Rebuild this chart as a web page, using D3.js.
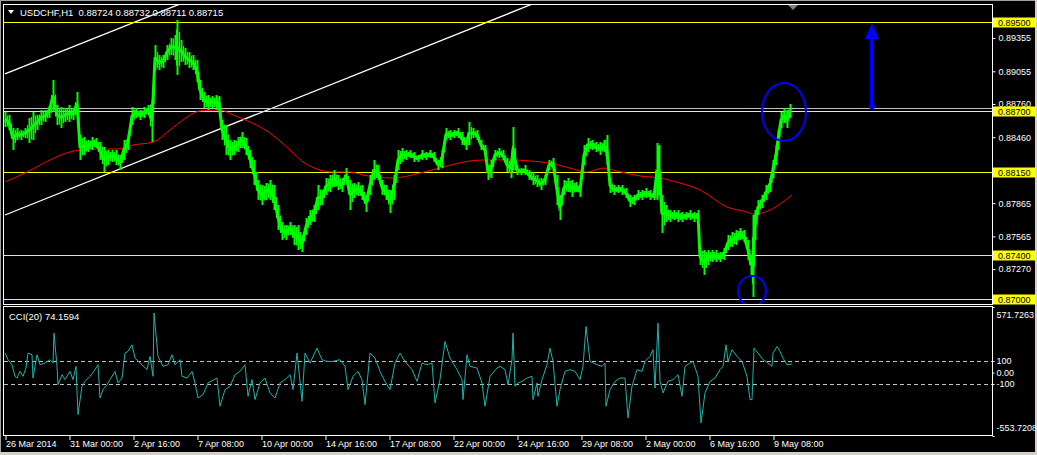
<!DOCTYPE html>
<html><head><meta charset="utf-8">
<script src="https://cdn.jsdelivr.net/npm/d3@7"></script>
<style>
html,body{margin:0;padding:0;background:#000;overflow:hidden}
svg{display:block}
text{font-family:"Liberation Sans",Arial,sans-serif}
</style></head><body>
<svg id="c" width="1037" height="455"></svg>
<script>
// ---------------- data ----------------
const symbol = "USDCHF,H1";
const quote = ["0.88724", "0.88732", "0.88711", "0.88715"];
const bid = 0.88715;

// hourly bar number since chart start, sampled bar highs / lows
const barIdx = [0,4,8,12,16,20,24,28,32,36,40,44,48,52,56,60,64,68,72,75,79,83,87,91,95,99,103,107,111,115,119,123,127,131,135,139,143,147,150,154,158,162,166,170,172,176,180,184,188,192,195,199,203,207,211,214,217,221,225,229,233,237,241,245,249,253,257,261,265,269,273,277,281,285,289,293,297,301,305,309,313,317,321,325,329,333,337,341,345,349,353,357,361,365,369,373,377,381,385,389,393,397,401,405,409,413,417,421,425,429,433,437,441,445,449,453,457,461,464,468,472,476,480,483,486,490,494,498,502,506,508,512,516,520,524,528,532,536,540,544,548,552,555,559,563,567,571,575,579,583,587,591,595,599,602,605,609,613,617,621,625,629,633,637,641,645,649,652,654,657,661,665,669,673,677,681,685,689,693,695,699,703,707,711,715,719,723,727,731,735,739,743,746,748,750,753,757,761,765,768,771,773,776,779,782,785];
const barHigh = [0.88688,0.88661,0.88543,0.88543,0.88525,0.88543,0.88634,0.88688,0.88661,0.88706,0.88706,0.88742,0.88977,0.88751,0.88733,0.88724,0.88751,0.88724,0.88868,0.88480,0.88462,0.88435,0.88462,0.88453,0.88417,0.88372,0.88345,0.88345,0.88345,0.88300,0.88435,0.88480,0.88733,0.88724,0.88706,0.88733,0.88751,0.88796,0.89292,0.89202,0.89202,0.89292,0.89356,0.89383,0.89518,0.89338,0.89265,0.89229,0.89202,0.89157,0.88977,0.88868,0.88841,0.88832,0.88841,0.88832,0.88616,0.88570,0.88435,0.88435,0.88462,0.88507,0.88453,0.88345,0.88255,0.88074,0.88029,0.88047,0.88074,0.88029,0.87848,0.87695,0.87668,0.87695,0.87668,0.87668,0.87578,0.87731,0.87803,0.87848,0.88029,0.87984,0.88092,0.88119,0.88164,0.88119,0.88092,0.88182,0.88074,0.88047,0.88056,0.88029,0.87939,0.88119,0.88255,0.88209,0.88074,0.88029,0.87984,0.88119,0.88345,0.88363,0.88345,0.88345,0.88327,0.88300,0.88345,0.88327,0.88345,0.88327,0.88255,0.88345,0.88543,0.88525,0.88525,0.88543,0.88507,0.88453,0.88598,0.88543,0.88525,0.88435,0.88390,0.88209,0.88255,0.88345,0.88363,0.88345,0.88273,0.88255,0.88552,0.88209,0.88182,0.88209,0.88164,0.88146,0.88119,0.88092,0.88119,0.88255,0.88273,0.88119,0.87939,0.88074,0.88092,0.88074,0.88056,0.88029,0.88390,0.88453,0.88435,0.88417,0.88417,0.88435,0.88480,0.88092,0.88029,0.88029,0.88029,0.88002,0.87939,0.87939,0.87984,0.87984,0.88002,0.87984,0.87966,0.88408,0.88390,0.87939,0.87848,0.87803,0.87803,0.87803,0.87785,0.87785,0.87803,0.87785,0.87803,0.87460,0.87442,0.87442,0.87442,0.87442,0.87424,0.87460,0.87578,0.87605,0.87623,0.87641,0.87623,0.87533,0.87397,0.87758,0.87803,0.87894,0.87939,0.88029,0.88092,0.88255,0.88390,0.88525,0.88688,0.88724,0.88706,0.88760];
const barLow = [0.88552,0.88525,0.88345,0.88435,0.88435,0.88453,0.88408,0.88435,0.88525,0.88570,0.88598,0.88634,0.88688,0.88570,0.88543,0.88598,0.88598,0.88616,0.88661,0.88255,0.88300,0.88327,0.88345,0.88363,0.88255,0.88146,0.88209,0.88237,0.88209,0.88164,0.88255,0.88345,0.88570,0.88634,0.88616,0.88634,0.88661,0.88417,0.89067,0.89067,0.89085,0.89157,0.89202,0.89157,0.89022,0.89139,0.89112,0.89085,0.89067,0.88958,0.88796,0.88724,0.88706,0.88724,0.88706,0.88706,0.88435,0.88300,0.88255,0.88300,0.88327,0.88363,0.88300,0.88182,0.88029,0.87894,0.87848,0.87894,0.87894,0.87803,0.87623,0.87533,0.87533,0.87578,0.87487,0.87442,0.87424,0.87578,0.87668,0.87695,0.87803,0.87848,0.87939,0.87966,0.88011,0.87984,0.87966,0.88056,0.87803,0.87912,0.87930,0.87894,0.87785,0.87939,0.88074,0.88074,0.87939,0.87894,0.87776,0.87894,0.88164,0.88237,0.88255,0.88273,0.88237,0.88237,0.88255,0.88255,0.88273,0.88237,0.88164,0.88182,0.88435,0.88435,0.88453,0.88453,0.88390,0.88345,0.88390,0.88453,0.88435,0.88345,0.88300,0.88074,0.88092,0.88255,0.88273,0.88255,0.88146,0.88092,0.88164,0.88119,0.88119,0.88119,0.88074,0.88029,0.88011,0.87984,0.88029,0.88164,0.88182,0.87848,0.87713,0.87939,0.87966,0.87921,0.87966,0.87921,0.88209,0.88327,0.88345,0.88327,0.88300,0.88327,0.88209,0.87957,0.87939,0.87957,0.87939,0.87912,0.87830,0.87848,0.87894,0.87894,0.87912,0.87894,0.87894,0.87894,0.87939,0.87596,0.87695,0.87695,0.87713,0.87695,0.87695,0.87713,0.87713,0.87695,0.87713,0.87307,0.87217,0.87307,0.87334,0.87334,0.87334,0.87352,0.87442,0.87469,0.87487,0.87533,0.87515,0.87352,0.87217,0.87018,0.87533,0.87758,0.87821,0.87894,0.87966,0.88092,0.88209,0.88345,0.88543,0.88589,0.88543,0.88634];

// moving average (red)
const maIdx = [0,22,45,65,75,95,112,128,148,165,178,195,215,228,245,265,285,298,312,328,345,358,388,415,438,465,482,508,525,545,565,582,598,612,635,655,675,695,722,742,748,765,778,787];
const maVal = [0.88056,0.88146,0.88255,0.88327,0.88345,0.88354,0.88354,0.88390,0.88417,0.88525,0.88616,0.88697,0.88706,0.88661,0.88598,0.88498,0.88345,0.88237,0.88173,0.88146,0.88146,0.88119,0.88092,0.88137,0.88191,0.88246,0.88255,0.88255,0.88246,0.88227,0.88182,0.88146,0.88182,0.88155,0.88110,0.88092,0.88047,0.87984,0.87830,0.87785,0.87767,0.87803,0.87876,0.87939];

// CCI(20)
const cciIdx = [0,3,7,10,12,15,18,21,23,27,28,32,35,40,45,48,49,52,53,57,60,65,68,71,73,77,80,85,90,93,95,98,102,105,110,113,117,120,123,127,130,135,142,145,148,149,153,158,163,167,170,175,177,182,187,190,193,198,203,212,215,220,225,230,235,240,243,247,250,255,260,265,270,275,280,285,288,292,295,297,300,305,312,317,322,328,335,340,343,348,353,357,360,365,370,375,380,385,390,395,400,407,412,417,422,427,430,435,440,445,452,457,458,462,465,472,477,480,485,492,495,500,503,507,508,510,513,517,522,527,528,532,533,537,542,545,548,552,555,560,565,570,575,578,581,585,592,597,600,601,605,610,615,620,623,627,632,637,640,645,648,650,653,655,658,663,668,673,677,680,685,688,693,696,700,705,710,715,718,721,723,727,732,737,742,745,747,749,753,758,763,767,768,772,775,778,782,787];
const cciVal = [170,112,68,-33,-48,10,-33,39,170,155,-48,155,68,83,112,83,344,54,-106,-19,-62,10,-62,54,-367,-120,-77,-33,25,68,-222,-149,-106,-62,10,-91,-48,170,184,242,126,83,25,141,-33,520,141,54,68,155,68,112,-33,-48,10,-91,-222,-193,-91,-48,-294,-149,-120,-19,10,68,-207,-62,-236,-91,-48,-178,-222,-91,-62,-19,-149,170,-77,-251,170,83,213,112,97,97,112,54,-149,-33,10,-62,-280,170,126,10,-77,-149,83,170,97,25,-77,83,68,83,-265,-62,271,126,25,-62,-236,155,54,39,-91,-294,-33,39,54,25,-106,112,344,-120,-91,-77,-48,-33,-236,-91,-207,-62,68,213,97,-294,-149,10,25,10,-62,54,402,97,68,54,83,-294,-149,-77,-48,-48,-396,-120,25,10,97,141,199,-135,431,-77,-178,-77,-62,-19,-207,54,83,97,-33,-439,-178,-77,-48,25,54,242,97,199,141,97,-33,-236,-236,213,170,112,83,54,170,228,184,126,68,74.1594];
const cciName = "CCI(20)";
const cciRange = [-553.7208, 571.7263];
const cciLevels = [100, -100];
const cciTicks = [571.7263, 100, 0, -100, -553.7208];
const cciTickLabels = ["571.7263", "100", "0.00", "-100", "-553.7208"];

// price axis
const priceTicks = [0.89355, 0.89055, 0.88760, 0.88460, 0.87865, 0.87565, 0.87270];
const levels = [0.89500, 0.88700, 0.88150, 0.87400, 0.87000];

// time axis (bar numbers and labels)
const timeTickIdx = [0, 64, 128, 192, 256, 320, 384, 448, 512, 576, 640, 704, 768];
const timeTickLabels = ["26 Mar 2014", "31 Mar 00:00", "2 Apr 16:00", "7 Apr 08:00", "10 Apr 00:00", "14 Apr 16:00", "17 Apr 08:00", "22 Apr 00:00", "24 Apr 16:00", "29 Apr 08:00", "2 May 00:00", "6 May 16:00", "9 May 08:00"];

// drawn objects
const trendLines = [[[0, 0.89031], [175, 0.89662]], [[0, 0.87758], [345, 0.89004]]];
const ellipses = [{idx: 779, price: 0.88688, rx: 22, ry: 29}, {idx: 747, price: 0.87072, rx: 14, ry: 15}];
const arrowObj = {idx: 867, from: 0.88740, to: 0.89500};

// ---------------- layout ----------------
const W = 1037, H = 455;
const L = 4, R = 992, mTop = 4, mBot = 304, cTop = 307, cBot = 436;
const FONT = "Liberation Sans, Arial, sans-serif";
const svg = d3.select("#c");

const x = d3.scaleLinear().domain([0, 987]).range([5, 992]);
const y = d3.scaleLinear().domain([0.870, 0.895]).range([299, 22]);
const yc = d3.scaleLinear().domain(cciRange).range([cBot, cTop]);

svg.append("rect").attr("width", W).attr("height", H).attr("fill", "#000");
// outer window frame
svg.append("rect").attr("x", 0).attr("y", 0).attr("width", W).attr("height", 1).attr("fill", "#a0a0a0");
svg.append("rect").attr("x", 0).attr("y", 0).attr("width", 1).attr("height", H).attr("fill", "#a0a0a0");
svg.append("rect").attr("x", 0).attr("y", H - 3).attr("width", W).attr("height", 3).attr("fill", "#d4d0c8");
svg.append("rect").attr("x", W - 2).attr("y", 0).attr("width", 2).attr("height", H).attr("fill", "#d4d0c8");

const defs = svg.append("defs");
defs.append("clipPath").attr("id", "cm").append("rect").attr("x", L).attr("y", mTop + 1).attr("width", R - L).attr("height", mBot - mTop - 1);
defs.append("clipPath").attr("id", "cc").append("rect").attr("x", L).attr("y", cTop + 1).attr("width", R - L).attr("height", cBot - cTop - 1);

const gm = svg.append("g").attr("clip-path", "url(#cm)");

// trend lines (extended as rays)
trendLines.forEach(([a, b]) => {
  const slope = (b[1] - a[1]) / (b[0] - a[0]);
  const far = 1000;
  gm.append("line").attr("x1", x(a[0])).attr("y1", y(a[1]))
    .attr("x2", x(far)).attr("y2", y(a[1] + slope * (far - a[0])))
    .attr("stroke", "#fff").attr("stroke-width", 1.3);
});

// horizontal levels
gm.selectAll(".lvl").data(levels).enter().append("line")
  .attr("x1", L).attr("x2", R).attr("y1", d => Math.round(y(d)) + 0.5).attr("y2", d => Math.round(y(d)) + 0.5)
  .attr("stroke", "#ffff00").attr("stroke-width", 1.2);
// bid line
gm.append("line").attr("x1", L).attr("x2", R).attr("y1", Math.round(y(bid)) - 0.5).attr("y2", Math.round(y(bid)) - 0.5)
  .attr("stroke", "#c0c0c0").attr("stroke-width", 1);

// MA
gm.append("path").datum(maIdx.map((d, i) => [d, maVal[i]]))
  .attr("d", d3.line().x(d => x(d[0])).y(d => y(d[1])).curve(d3.curveMonotoneX))
  .attr("fill", "none").attr("stroke", "#ff0000").attr("stroke-width", 1);

// price bars
const bars = barIdx.map((d, i) => ({i: d, h: barHigh[i], l: barLow[i]}));
gm.append("path").datum(bars)
  .attr("d", d3.line().x(d => x(d.i)).y(d => y((d.h + d.l) / 2)))
  .attr("fill", "none").attr("stroke", "#00ff00").attr("stroke-width", 3).attr("stroke-linejoin", "bevel");
gm.selectAll(".bar").data(bars).enter().append("line")
  .attr("x1", d => x(d.i) + 0.5).attr("x2", d => x(d.i) + 0.5)
  .attr("y1", d => y(d.h)).attr("y2", d => y(d.l))
  .attr("stroke", "#00ff00").attr("stroke-width", 2);
gm.selectAll(".bar2").data(bars.slice(1)).enter().append("line")
  .attr("x1", (d, k) => (x(d.i) + x(bars[k].i)) / 2 + 0.5).attr("x2", (d, k) => (x(d.i) + x(bars[k].i)) / 2 + 0.5)
  .attr("y1", (d, k) => y((d.h + bars[k].h) / 2) + 2).attr("y2", (d, k) => y((d.l + bars[k].l) / 2) - 2)
  .attr("stroke", "#00ff00").attr("stroke-width", 1.2);

// ellipses
gm.selectAll(".ell").data(ellipses).enter().append("ellipse")
  .attr("cx", d => x(d.idx)).attr("cy", d => y(d.price)).attr("rx", d => d.rx).attr("ry", d => d.ry)
  .attr("fill", "none").attr("stroke", "#0000ff").attr("stroke-width", 2);

// arrow
const ax = x(arrowObj.idx), ay0 = y(arrowObj.from), ay1 = y(arrowObj.to);
gm.append("line").attr("x1", ax).attr("x2", ax).attr("y1", ay0).attr("y2", ay1 + 12)
  .attr("stroke", "#0000ff").attr("stroke-width", 4);
gm.append("path").attr("d", `M${ax},${ay1 + 1} L${ax - 7},${ay1 + 17} L${ax + 7},${ay1 + 17} Z`).attr("fill", "#0000ff");
gm.append("circle").attr("cx", ax).attr("cy", ay0).attr("r", 3).attr("fill", "#0000ff");

// chart shift marker
const sx = x(788);
svg.append("path").attr("d", `M${sx - 5},${mTop + 1} L${sx + 5},${mTop + 1} L${sx},${mTop + 6} Z`).attr("fill", "#808080");

// header
svg.append("path").attr("d", "M8,10 L14,10 L11,14 Z").attr("fill", "#fff");
svg.append("text").attr("x", 20).attr("y", 16).attr("fill", "#fff")
  .style("font-size", "9.5px").style("font-family", FONT).style("white-space", "pre")
  .text(symbol + "  " + quote.join(" "));

// CCI pane
const gc = svg.append("g").attr("clip-path", "url(#cc)");
gc.selectAll(".cl").data(cciLevels).enter().append("line")
  .attr("x1", L).attr("x2", R).attr("y1", d => Math.round(yc(d)) + 0.5).attr("y2", d => Math.round(yc(d)) + 0.5)
  .attr("stroke", "#c0c0c0").attr("stroke-dasharray", "4,3");
gc.append("path").datum(cciIdx.map((d, i) => [d, cciVal[i]]))
  .attr("d", d3.line().x(d => x(d[0])).y(d => yc(d[1])))
  .attr("fill", "none").attr("stroke", "#20b2aa").attr("stroke-width", 1);
svg.append("text").attr("x", 9).attr("y", 320).attr("fill", "#fff")
  .style("font-size", "9.5px").style("font-family", FONT)
  .text(cciName + " " + cciVal[cciVal.length - 1].toFixed(4));

// pane borders
svg.append("rect").attr("x", 3.5).attr("y", mTop + 0.5).attr("width", R - 3.5 + 0.5).attr("height", mBot - mTop)
  .attr("fill", "none").attr("stroke", "#fff");
svg.append("rect").attr("x", 3.5).attr("y", cTop - 0.5).attr("width", R - 3.5 + 0.5).attr("height", cBot - cTop)
  .attr("fill", "none").attr("stroke", "#fff");

// price axis
const pa = svg.append("g").attr("transform", `translate(${R + 0.5},0)`)
  .call(d3.axisRight(y).tickValues(priceTicks).tickFormat(d3.format(".5f")).tickSize(3).tickPadding(3));
pa.select(".domain").remove();
pa.selectAll("line").attr("stroke", "#fff");
pa.selectAll("text").attr("fill", "#fff").style("font-size", "9px").style("font-family", FONT);

// level labels
const ll = svg.selectAll(".ll").data(levels).enter().append("g");
ll.append("rect").attr("x", R + 1).attr("y", d => Math.round(y(d)) - 4.5).attr("width", 43).attr("height", 10).attr("fill", "#ffff00");
ll.append("text").attr("x", R + 6).attr("y", d => Math.round(y(d)) + 0.5).attr("dy", "0.35em").attr("fill", "#000")
  .style("font-size", "9px").style("font-family", FONT).text(d => d.toFixed(5));

// CCI axis
const ca = svg.append("g").attr("transform", `translate(${R + 0.5},0)`)
  .call(d3.axisRight(yc).tickValues(cciTicks).tickFormat((d, i) => cciTickLabels[i]).tickSize(2).tickPadding(2));
ca.select(".domain").remove();
ca.selectAll("line").attr("stroke", "#fff");
ca.selectAll("text").attr("fill", "#fff").style("font-size", "9px").style("font-family", FONT)
  .attr("dy", (d, i) => i === 0 ? "1.2em" : (i === cciTicks.length - 1 ? "-0.6em" : "0.32em"));

// time axis
const ta = svg.append("g").attr("transform", `translate(0,${cBot})`)
  .call(d3.axisBottom(x).tickValues(timeTickIdx).tickFormat((d, i) => timeTickLabels[i]).tickSize(4).tickPadding(1));
ta.select(".domain").remove();
ta.selectAll("line").attr("stroke", "#fff").attr("transform", "translate(0.5,0)");
ta.selectAll("text").attr("fill", "#fff").attr("text-anchor", "start").attr("dx", "0.5")
  .style("font-size", "9px").style("font-family", FONT);
</script>
</body></html>
